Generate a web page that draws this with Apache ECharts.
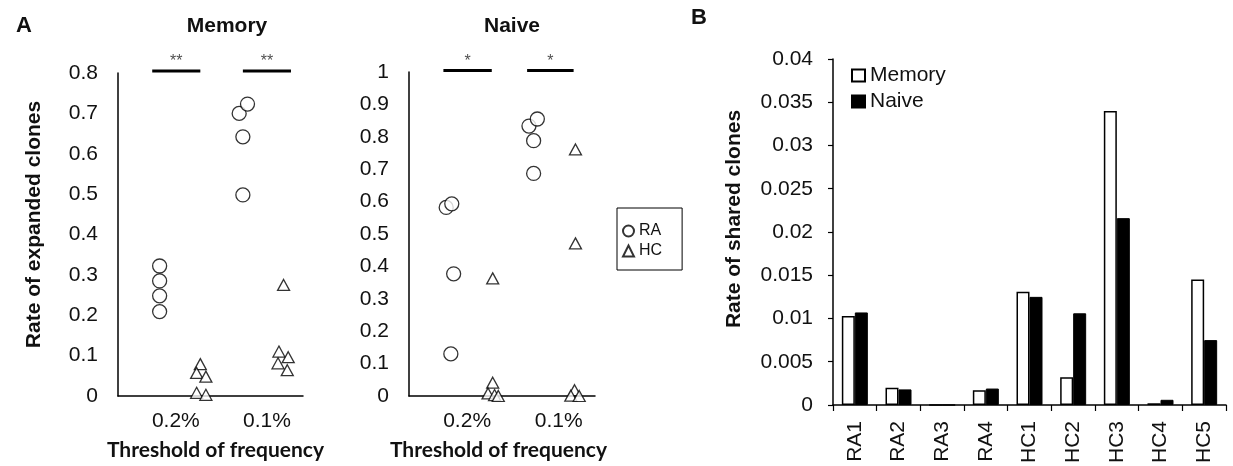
<!DOCTYPE html>
<html>
<head>
<meta charset="utf-8">
<script src="https://cdn.jsdelivr.net/npm/echarts@6/dist/echarts.min.js"></script>
<style>
  html, body { margin: 0; padding: 0; background: #fff; }
  #chart { width: 1233px; height: 466px; }
</style>
</head>
<body>
<div id="chart"></div>
<script>
// ---------- Panel A data ----------
const thresholds = ['0.2%', '0.1%'];

// Memory: RA (circles) and HC (triangles); x = jittered position within threshold group
const memRA02x = [0.45, 0.45, 0.45, 0.45];
const memRA02y = [0.322, 0.285, 0.248, 0.209];
const memRA01x = [1.31, 1.40, 1.35, 1.35];
const memRA01y = [0.700, 0.723, 0.642, 0.498];
const memHC02x = [0.89, 0.85, 0.95, 0.85, 0.95];
const memHC02y = [0.079, 0.057, 0.048, 0.008, 0.003];
const memHC01x = [1.79, 1.74, 1.84, 1.73, 1.83];
const memHC01y = [0.275, 0.110, 0.096, 0.081, 0.064];

// Naive
const naiRA02x = [0.40, 0.46, 0.48, 0.45];
const naiRA02y = [0.582, 0.593, 0.377, 0.130];
const naiRA01x = [1.29, 1.38, 1.34, 1.34];
const naiRA01y = [0.833, 0.855, 0.788, 0.687];
const naiHC02x = [0.90, 0.90, 0.85, 0.92, 0.96];
const naiHC02y = [0.363, 0.041, 0.008, 0.003, 0.000];
const naiHC01x = [1.79, 1.79, 1.78, 1.74, 1.83];
const naiHC01y = [0.761, 0.471, 0.018, 0.001, 0.000];

// significance brackets: [label, xStart, xEnd]
const sigMemory = [['**', 0.37, 0.89], ['**', 1.35, 1.87]];
const sigMemoryLevel = 0.805;
const sigNaive = [['*', 0.37, 0.89], ['*', 1.27, 1.77]];
const sigNaiveLevel = 1.005;

// ---------- Panel B data ----------
const samples = ['RA1', 'RA2', 'RA3', 'RA4', 'HC1', 'HC2', 'HC3', 'HC4', 'HC5'];
const sharedMemory = [0.0103, 0.0020, 0, 0.0017, 0.0131, 0.0032, 0.0340, 0.0002, 0.0145];
const sharedNaive  = [0.0107, 0.0018, 0, 0.0019, 0.0125, 0.0106, 0.0216, 0.0006, 0.0075];

// ---------- helpers ----------
const zip = (xs, ys) => xs.map((x, i) => [x, ys[i]]);
const labelPos = [0.625, 1.61];
const FONT = "'Liberation Sans', Arial, sans-serif";
const BLACK = '#000';

function sigLine(sig, level) {
  const d = [];
  sig.forEach((s, i) => { if (i) d.push('-'); d.push([s[1], level], [s[2], level]); });
  return d;
}
function sigStars(sig, level) {
  return sig.map(s => ({ value: [(s[1] + s[2]) / 2, level], label: { formatter: s[0] } }));
}

function aPanelSeries(idx, RA02, RA01, HC02, HC01, sig, level) {
  const hollow = { color: '#fff', borderColor: BLACK, borderWidth: 1.3 };
  return [
    { name: 'RA', type: 'scatter', xAxisIndex: idx, yAxisIndex: idx, symbol: 'circle', symbolSize: 14,
      itemStyle: hollow, data: RA02.concat(RA01), z: 3, clip: false },
    { name: 'HC', type: 'scatter', xAxisIndex: idx, yAxisIndex: idx, symbol: 'triangle', symbolSize: [12, 11],
      itemStyle: hollow, data: HC02.concat(HC01), z: 3, clip: false },
    { type: 'line', xAxisIndex: idx, yAxisIndex: idx, data: sigLine(sig, level), symbol: 'none',
      lineStyle: { color: BLACK, width: 3 }, clip: false, silent: true, connectNulls: false },
    { type: 'scatter', xAxisIndex: idx, yAxisIndex: idx, data: sigStars(sig, level), symbolSize: 0,
      clip: false, silent: true,
      label: { show: true, position: 'top', distance: 1, fontFamily: FONT, fontSize: 16, color: '#222' } }
  ];
}

function aXAxis(idx, namePad) {
  return {
    type: 'value', gridIndex: idx, min: 0, max: 2,
    axisLine: { show: true, onZero: false, lineStyle: { color: BLACK, width: 1.5 } },
    axisTick: { show: false }, splitLine: { show: false },
    axisLabel: {
      customValues: labelPos, margin: 15, fontFamily: FONT, fontSize: 21, color: '#111',
      formatter: v => { let best = 0; labelPos.forEach((p, i) => { if (Math.abs(p - v) < Math.abs(labelPos[best] - v)) best = i; }); return thresholds[best]; }
    },
    name: 'Threshold of frequency', nameLocation: 'middle', nameGap: 44,
    nameTextStyle: { fontFamily: "Lato, 'Open Sans', sans-serif", fontWeight: 'bold', fontSize: 21, color: '#111', padding: namePad }
  };
}
function aYAxis(idx, max, name) {
  return {
    type: 'value', gridIndex: idx, min: 0, max: max, interval: 0.1,
    axisLine: { show: true, lineStyle: { color: BLACK, width: 1.5 } },
    axisTick: { show: false }, splitLine: { show: false },
    axisLabel: { margin: 20, fontFamily: FONT, fontSize: 21, color: '#111' },
    name: name, nameLocation: 'middle', nameGap: 73,
    nameTextStyle: { fontFamily: FONT, fontWeight: 'bold', fontSize: 21, color: '#111', padding: [0, 0, 0, 20] }
  };
}

const chart = echarts.init(document.getElementById('chart'), null, { renderer: 'canvas' });
const option = {
  animation: false,
  backgroundColor: '#fff',
  title: [
    { text: 'A', left: 11, top: 10, textStyle: { fontFamily: FONT, fontWeight: 'bold', fontSize: 22, color: '#111' } },
    { text: 'Memory', left: 222, top: 11, textAlign: 'center', textStyle: { fontFamily: FONT, fontWeight: 'bold', fontSize: 21, color: '#111' } },
    { text: 'Naive', left: 507, top: 11, textAlign: 'center', textStyle: { fontFamily: FONT, fontWeight: 'bold', fontSize: 21, color: '#111' } },
    { text: 'B', left: 686, top: 2, textStyle: { fontFamily: FONT, fontWeight: 'bold', fontSize: 22, color: '#111' } }
  ],
  legend: [
    { data: ['RA', 'HC'], orient: 'vertical', left: 617, top: 208,
      itemWidth: 11, itemHeight: 11, itemGap: 4,
      padding: [15, 20, 11, 5], borderColor: BLACK, borderWidth: 1,
      textStyle: { fontFamily: FONT, fontSize: 16, color: '#111' } },
    { data: [{ name: 'Memory', icon: 'rect' }, { name: 'Naive', icon: 'rect' }], orient: 'vertical', left: 846, top: 60,
      itemWidth: 13, itemHeight: 12, itemGap: 5,
      textStyle: { fontFamily: FONT, fontSize: 21, color: '#111' } }
  ],
  grid: [
    { left: 118, top: 73, width: 185, height: 323 },
    { left: 409, top: 72, width: 186, height: 324 },
    { left: 833, top: 59, width: 393, height: 350 }
  ],
  xAxis: [
    aXAxis(0, [0, 0, 0, 10]), aXAxis(1, [0, 7, 0, 0]),
    { type: 'category', gridIndex: 2, data: samples,
      axisLine: { lineStyle: { color: BLACK, width: 1.5 } },
      axisTick: { show: true, length: 6, lineStyle: { color: BLACK, width: 1.2 } },
      axisLabel: { rotate: 90, margin: 16, fontFamily: FONT, fontSize: 21, color: '#111' } }
  ],
  yAxis: [
    aYAxis(0, 0.8, 'Rate of expanded clones'),
    aYAxis(1, 1, ''),
    { type: 'value', gridIndex: 2, min: 0, max: 0.04, interval: 0.005,
      axisLine: { show: true, lineStyle: { color: BLACK, width: 1.5 } },
      axisTick: { show: true, length: 5, lineStyle: { color: BLACK, width: 1.2 } },
      splitLine: { show: false },
      axisLabel: { margin: 20, fontFamily: FONT, fontSize: 21, color: '#111' },
      name: 'Rate of shared clones', nameLocation: 'middle', nameGap: 88,
      nameTextStyle: { fontFamily: FONT, fontWeight: 'bold', fontSize: 21, color: '#111', padding: [0, 0, 0, 26] } }
  ],
  series: [
    ...aPanelSeries(0, zip(memRA02x, memRA02y), zip(memRA01x, memRA01y), zip(memHC02x, memHC02y), zip(memHC01x, memHC01y), sigMemory, sigMemoryLevel),
    ...aPanelSeries(1, zip(naiRA02x, naiRA02y), zip(naiRA01x, naiRA01y), zip(naiHC02x, naiHC02y), zip(naiHC01x, naiHC01y), sigNaive, sigNaiveLevel),
    { name: 'Memory', type: 'bar', xAxisIndex: 2, yAxisIndex: 2, data: sharedMemory, barWidth: 13, barGap: '0%',
      itemStyle: { color: '#fff', borderColor: BLACK, borderWidth: 1.5 } },
    { name: 'Naive', type: 'bar', xAxisIndex: 2, yAxisIndex: 2, data: sharedNaive, barWidth: 13, barGap: '0%',
      itemStyle: { color: BLACK, borderColor: BLACK, borderWidth: 1 } }
  ]
};
chart.setOption(option);
</script>
</body>
</html>
